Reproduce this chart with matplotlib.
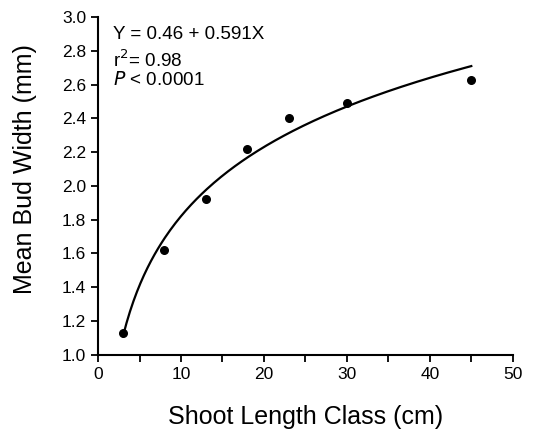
import numpy as np
import matplotlib.pyplot as plt
from matplotlib.ticker import MultipleLocator

plt.rcParams['font.family'] = ['Liberation Sans', 'DejaVu Sans']

# ── Data ──────────────────────────────────────────────────────────────────────
shoot_length = [3, 8, 13, 18, 23, 30, 45]
bud_width    = [1.13, 1.62, 1.92, 2.22, 2.40, 2.49, 2.63]

# fitted regression Y = a + b ln(X)
FIT_A = 0.46
FIT_B = 0.591

fig = plt.figure(figsize=(5.33, 4.38), dpi=100)
ax = fig.add_axes([0.184, 0.19, 0.778, 0.771])

xs = np.linspace(min(shoot_length), max(shoot_length), 200)
ax.plot(xs, FIT_A + FIT_B * np.log(xs), color="black", linewidth=1.6)
ax.scatter(shoot_length, bud_width, s=30, color="black", zorder=3)

ax.set_xlim(0, 50)
ax.set_ylim(1.0, 3.0)
ax.xaxis.set_major_locator(MultipleLocator(10))
ax.xaxis.set_minor_locator(MultipleLocator(5))
ax.yaxis.set_major_locator(MultipleLocator(0.2))
ax.yaxis.set_major_formatter(plt.FormatStrFormatter("%.1f"))

for s in ["top", "right"]:
    ax.spines[s].set_visible(False)
for s in ["left", "bottom"]:
    ax.spines[s].set_linewidth(1.5)

ax.tick_params(which="both", direction="out", width=1.3, labelsize=12.5)
ax.tick_params(which="major", length=5)
ax.tick_params(which="minor", length=5)

ax.set_xlabel("Shoot Length Class (cm)", fontsize=18, labelpad=17)
ax.set_ylabel("Mean Bud Width (mm)", fontsize=18)
ax.yaxis.set_label_coords(-0.147, 0.55)

ax.text(0.035, 0.975, "Y = 0.46 + 0.591X", transform=ax.transAxes,
        fontsize=13.6, va="top")
ax.text(0.035, 0.905, r"r$^2$= 0.98", transform=ax.transAxes,
        fontsize=13.6, va="top")
ax.text(0.035, 0.84, r"$\it{P}$ < 0.0001", transform=ax.transAxes,
        fontsize=13.6, va="top")

fig.savefig("out.png", dpi=100)
